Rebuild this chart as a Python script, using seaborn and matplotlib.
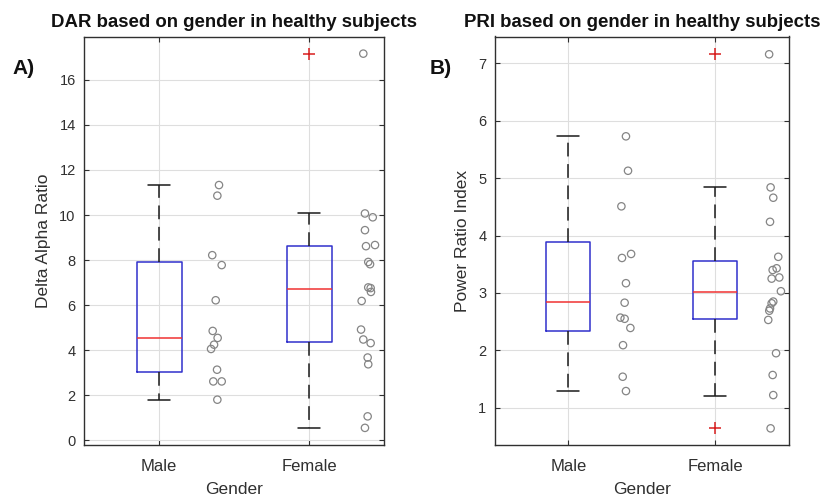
import matplotlib
matplotlib.use("Agg")
import matplotlib.pyplot as plt
import pandas as pd
import seaborn as sns

groups = ["Male", "Female"]

# Delta Alpha Ratio per subject
dar_male = [11.33, 10.86, 8.22, 7.78, 6.22, 4.86, 4.55, 4.25, 4.06, 3.14, 2.62, 2.62, 1.81]
dar_female = [17.16, 10.07, 9.90, 9.33, 8.67, 8.62, 7.92, 7.82, 6.79, 6.76, 6.59, 6.19,
              4.92, 4.48, 4.32, 3.68, 3.38, 1.07, 0.56]

# Power Ratio Index per subject
pri_male = [5.73, 5.13, 4.51, 3.68, 3.61, 3.17, 2.83, 2.57, 2.55, 2.39, 2.09, 1.54, 1.29]
pri_female = [7.16, 4.84, 4.66, 4.24, 3.63, 3.43, 3.40, 3.27, 3.25, 3.03, 2.85, 2.82,
              2.73, 2.69, 2.53, 1.95, 1.57, 1.22, 0.64]

# Box summaries: lower whisker, Q1, median, Q3, upper whisker
dar_box_male = [1.81, 3.02, 4.53, 7.90, 11.33]
dar_box_female = [0.56, 4.36, 6.73, 8.64, 10.07]
dar_out_male = []
dar_out_female = [17.16]

pri_box_male = [1.29, 2.33, 2.84, 3.89, 5.73]
pri_box_female = [1.21, 2.55, 3.02, 3.56, 4.85]
pri_out_male = []
pri_out_female = [7.16, 0.64]

# horizontal scatter offsets of the subject markers, to the right of each box
dar_dx_male = [0.40, 0.389, 0.355, 0.418, 0.378, 0.358, 0.391, 0.367, 0.347, 0.387, 0.362, 0.418, 0.389]
dar_dx_female = [0.362, 0.373, 0.425, 0.373, 0.44, 0.38, 0.395, 0.407, 0.395, 0.411, 0.413, 0.351,
                 0.347, 0.362, 0.411, 0.391, 0.395, 0.391, 0.373]
pri_dx_male = [0.392, 0.406, 0.361, 0.427, 0.365, 0.392, 0.383, 0.354, 0.383, 0.422, 0.372, 0.37, 0.392]
pri_dx_female = [0.365, 0.375, 0.393, 0.371, 0.427, 0.416, 0.389, 0.434, 0.382, 0.445, 0.393, 0.382,
                 0.371, 0.366, 0.359, 0.412, 0.389, 0.393, 0.375]

sns.set_theme(style="whitegrid")
plt.rcParams["font.family"] = ["Liberation Sans", "DejaVu Sans"]

TEXT = "#303030"
BOX_BLUE = "#3030cc"
MED_RED = "#f03232"
PT_GRAY = "#858585"


def draw_panel(ax, male, female, dx_m, dx_f, box_m, box_f, out_m, out_f,
               ylim, yticks, ylabel, title, tag, tag_x):
    stats = []
    for name, b, o in [("Male", box_m, out_m), ("Female", box_f, out_f)]:
        lo, q1, med, q3, hi = b
        stats.append(dict(whislo=lo, q1=q1, med=med, q3=q3, whishi=hi,
                          fliers=o, label=name))
    ax.bxp(stats, positions=[1, 2], widths=0.3, capwidths=0.15,
           showfliers=True, manage_ticks=False,
           boxprops=dict(color=BOX_BLUE, linewidth=1.1),
           medianprops=dict(color=MED_RED, linewidth=1.1),
           whiskerprops=dict(color="#1a1a1a", linewidth=1.1, linestyle=(0, (9, 5))),
           capprops=dict(color="#1a1a1a", linewidth=1.1),
           flierprops=dict(marker="+", markeredgecolor="#d81e1e", markersize=8,
                           markeredgewidth=1.1, linestyle="none"))

    df = pd.DataFrame({
        "Gender": ["Male"] * len(male) + ["Female"] * len(female),
        "value": male + female,
        "x": [1 + d for d in dx_m] + [2 + d for d in dx_f],
    })
    sns.scatterplot(data=df, x="x", y="value", ax=ax, marker="o", s=28,
                    color=PT_GRAY, linewidth=0.9, legend=False, zorder=3)
    coll = ax.collections[-1]
    coll.set_facecolor("none")
    coll.set_edgecolor(PT_GRAY)

    ax.set_xlim(0.5, 2.5)
    ax.set_ylim(*ylim)
    ax.set_xticks([1, 2])
    ax.set_xticklabels(groups)
    ax.set_yticks(yticks)
    ax.set_xlabel("Gender", fontsize=12.5, color=TEXT, labelpad=6)
    ax.set_ylabel(ylabel, fontsize=12.5, color=TEXT, labelpad=6)
    ax.set_title(title, fontsize=13.4, fontweight="bold", color="#111111", pad=7)

    ax.grid(True, color="#dedede", linewidth=0.8)
    ax.set_axisbelow(True)
    ax.tick_params(axis="both", direction="in", length=3.5, width=0.8,
                   color=TEXT, top=True, right=True, bottom=True, left=True)
    ax.tick_params(axis="y", labelsize=10.5, labelcolor=TEXT, pad=6)
    ax.tick_params(axis="x", labelsize=12, labelcolor=TEXT, pad=10)
    for sp in ax.spines.values():
        sp.set_visible(True)
        sp.set_color("#303030")
        sp.set_linewidth(1.0)

    ax.figure.text(tag_x, 0.862, tag, fontsize=15, fontweight="bold",
                   color="#111111", ha="left", va="center")


fig = plt.figure(figsize=(8.24, 4.96), dpi=100)
fig.patch.set_facecolor("white")
ax1 = fig.add_axes([84 / 824, 51 / 496, 300 / 824, 408.5 / 496])
ax2 = fig.add_axes([494.7 / 824, 51 / 496, 294.3 / 824, 408.5 / 496])

draw_panel(ax1, dar_male, dar_female, dar_dx_male, dar_dx_female,
           dar_box_male, dar_box_female, dar_out_male, dar_out_female,
           (-0.2, 17.92), list(range(0, 17, 2)), "Delta Alpha Ratio",
           "DAR based on gender in healthy subjects", "A)", 12 / 824)
draw_panel(ax2, pri_male, pri_female, pri_dx_male, pri_dx_female,
           pri_box_male, pri_box_female, pri_out_male, pri_out_female,
           (0.35, 7.47), list(range(1, 8)), "Power Ratio Index",
           "PRI based on gender in healthy subjects", "B)", 430 / 824)

fig.savefig("out.png", dpi=100, facecolor="white")
